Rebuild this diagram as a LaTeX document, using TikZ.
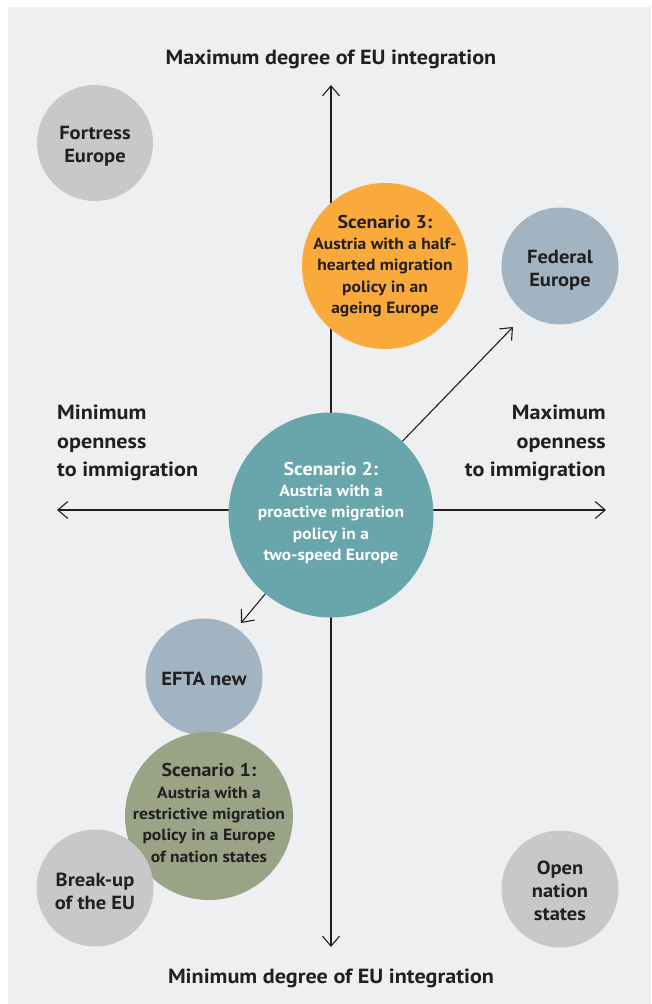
\documentclass[tikz,border=0pt]{standalone}
\usepackage{fontspec}
\setmainfont{PT Sans}[FakeStretch=1.08]
\usetikzlibrary{arrows.meta}
\definecolor{bg}{HTML}{EEEFF1}
\definecolor{ink}{HTML}{231F20}
\definecolor{grayc}{HTML}{C8C8CA}
\definecolor{orangec}{HTML}{F9AA3A}
\definecolor{bluec}{HTML}{A2B4C2}
\definecolor{tealc}{HTML}{68A6AB}
\definecolor{olivec}{HTML}{9AA386}
\begin{document}
\begin{tikzpicture}[x=1pt,y=-1pt,
  circ/.style={circle,inner sep=0pt,minimum size=#1},
  axisline/.style={draw=ink,line width=1.1pt,-{Straight Barb[length=10pt,width=17pt,line width=1.1pt]}},
  axislbl/.style={font=\bfseries\fontsize{20.5}{28.5}\selectfont,text=ink,inner sep=0pt},
  ctxt/.style={font=\bfseries\fontsize{16.2}{21.3}\selectfont,text=ink,align=center,inner sep=0pt},
  cbig/.style={font=\bfseries\fontsize{19}{23}\selectfont,text=ink,align=center,inner sep=0pt}
]
\useasboundingbox (0,0) rectangle (651,1004);
\fill[white] (0,0) rectangle (651,1004);
\fill[bg] (8,7) rectangle (651,1004);

% axes
\coordinate (top) at (331,85);
\coordinate (bot) at (331,947);
\coordinate (lft) at (57,510);
\coordinate (rgt) at (606,510);
\coordinate (ctr) at (331,510);
\draw[axisline] (ctr) -- (top);
\draw[axisline] (ctr) -- (bot);
\draw[axisline] (ctr) -- (lft);
\draw[axisline] (ctr) -- (rgt);

\node[axislbl,anchor=base] (tlbl) at (331,64) {Maximum degree of EU integration};
\node[axislbl,anchor=base] (blbl) at (331,983) {Minimum degree of EU integration};
\node[axislbl,anchor=north west,align=left] (llbl) at (57,405) {Minimum\\openness\\to immigration};
\node[axislbl,anchor=north east,align=right] (rlbl) at (606,405) {Maximum\\openness\\to immigration};

% circles
\node[circ=116pt,fill=grayc] (fort) at (95,143) {};
\node[cbig] at (95,146) {Fortress\\Europe};
\node[circ=166pt,fill=orangec] (s3) at (385,266) {};
\node[ctxt] at (385,266) {{\fontsize{18.5}{23}\selectfont Scenario 3:}\\Austria with a half-\\hearted migration\\policy in an\\ageing Europe};
\node[circ=117pt,fill=bluec] (fed) at (560,266) {};
\node[cbig] at (560,270) {Federal\\Europe};
\node[circ=205pt,fill=tealc] (s2) at (331,515) {};
\node[ctxt,text=white] at (331,513) {{\fontsize{18.5}{23}\selectfont Scenario 2:}\\Austria with a\\proactive migration\\policy in a\\two-speed Europe};
\node[circ=117pt,fill=bluec] (efta) at (204,677) {};
\node[cbig] at (204,679) {EFTA new};
\node[circ=168pt,fill=olivec] (s1) at (209,816) {};
\node[ctxt] at (209,813) {{\fontsize{18.5}{23}\selectfont Scenario 1:}\\Austria with a\\restrictive migration\\policy in a Europe\\of nation states};
\node[circ=117pt,fill=grayc] (brk) at (95,888) {};
\node[cbig] at (95,891) {Break-up\\of the EU};
\node[circ=117pt,fill=grayc] (open) at (560,889) {};
\node[cbig] at (560,891) {Open\\nation\\states};

% diagonal arrows
\coordinate (fedtip) at (513,327);
\coordinate (eftatip) at (241,623);
\draw[axisline] (s2) -- (fedtip);
\draw[axisline] (s2) -- (eftatip);
\end{tikzpicture}
\end{document}
